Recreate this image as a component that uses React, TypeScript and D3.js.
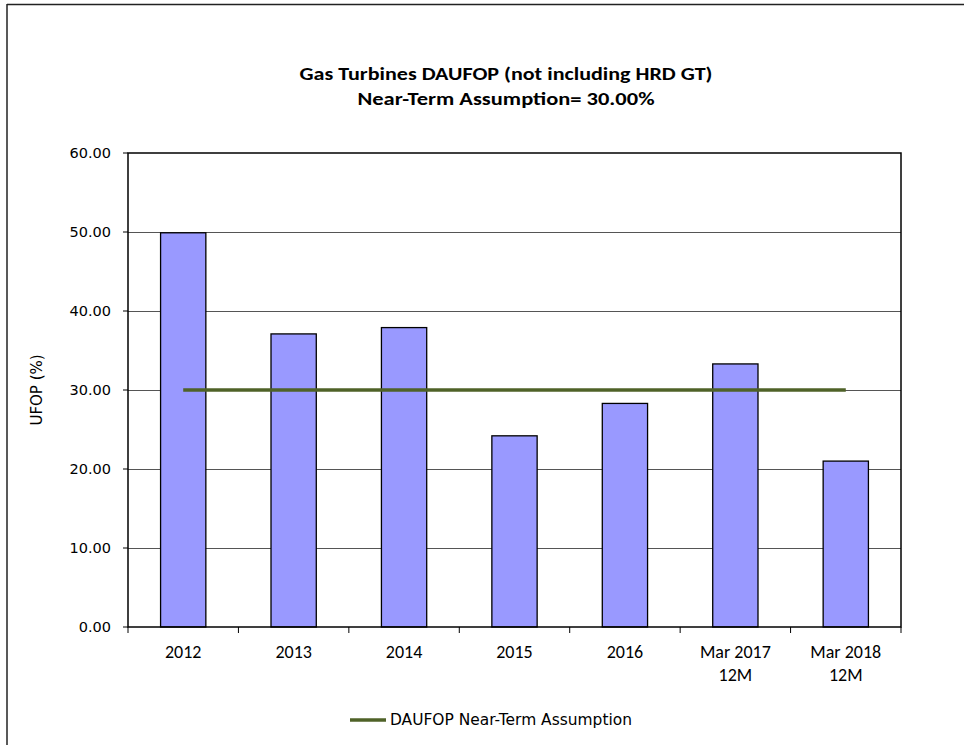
import React from "react";
import * as d3 from "d3";

const categories: string[][] = [["2012"], ["2013"], ["2014"], ["2015"], ["2016"], ["Mar 2017", "12M"], ["Mar 2018", "12M"]];
const ufopValues: number[] = [49.9, 37.1, 37.9, 24.2, 28.3, 33.3, 21.0];
const assumptionValues: number[] = [30, 30, 30, 30, 30, 30, 30];
const yTicks: number[] = [0, 10, 20, 30, 40, 50, 60];
const titleLines: string[] = ["Gas Turbines DAUFOP (not including HRD GT)", "Near-Term Assumption= 30.00%"];
const yLabel = "UFOP (%)";
const legendLabel = "DAUFOP Near-Term Assumption";

const W = 964;
const H = 747;
const plot = { left: 128, right: 901, top: 153, bottom: 627 };
const titleFont = "Carlito, Calibri, 'Open Sans', sans-serif";
const tickFont = "'DejaVu Sans', Verdana, sans-serif";

export default function App() {
  const keys = categories.map((c) => c.join(" "));
  const x = d3.scaleBand<string>().domain(keys).range([plot.left, plot.right]).padding(0);
  const y = d3.scaleLinear().domain([0, 60]).range([plot.bottom, plot.top]);
  const barW = x.bandwidth() * 0.41;
  const cx = (k: string) => (x(k) as number) + x.bandwidth() / 2;

  const line = d3
    .line<number>()
    .x((_, i) => cx(keys[i]))
    .y((d) => y(d));

  const boundaries = d3.range(keys.length + 1).map((i) => plot.left + i * x.step());

  return (
    <svg
      width={W}
      height={H}
      style={{ position: "absolute", left: 0, top: 0, background: "#fff" }}
    >
      <rect x={0} y={0} width={W} height={H} fill="#fff" />
      {/* outer frame */}
      <line x1={7} y1={4.5} x2={W} y2={4.5} stroke="#222" strokeWidth={1.5} />
      <line x1={7} y1={4} x2={7} y2={745} stroke="#222" strokeWidth={1.5} />

      {/* title */}
      <text x={506} y={80} textAnchor="middle" fontFamily={titleFont} fontWeight="bold" fontSize={18} textLength={413} lengthAdjust="spacingAndGlyphs">
        {titleLines[0]}
      </text>
      <text x={506} y={105} textAnchor="middle" fontFamily={titleFont} fontWeight="bold" fontSize={18} textLength={297} lengthAdjust="spacingAndGlyphs">
        {titleLines[1]}
      </text>

      {/* gridlines */}
      {yTicks
        .filter((t) => t > 0 && t < 60)
        .map((t) => (
          <line key={"g" + t} x1={plot.left} x2={plot.right} y1={Math.round(y(t)) + 0.5} y2={Math.round(y(t)) + 0.5} stroke="#555" strokeWidth={1} />
        ))}

      {/* bars */}
      {ufopValues.map((v, i) => (
        <rect
          key={"b" + i}
          x={cx(keys[i]) - barW / 2}
          y={y(v)}
          width={barW}
          height={y(0) - y(v)}
          fill="#9999FF"
          stroke="#000"
          strokeWidth={1.3}
        />
      ))}

      {/* assumption line */}
      <path d={line(assumptionValues) || ""} fill="none" stroke="#4F6228" strokeWidth={3.5} />

      {/* plot border */}
      <rect x={plot.left} y={plot.top} width={plot.right - plot.left} height={plot.bottom - plot.top} fill="none" stroke="#000" strokeWidth={1.5} />

      {/* y ticks */}
      {yTicks.map((t) => (
        <g key={"yt" + t}>
          <line x1={plot.left - 5} x2={plot.left} y1={y(t)} y2={y(t)} stroke="#000" strokeWidth={1} />
          <text x={111} y={y(t)} dy="0.35em" textAnchor="end" fontFamily={tickFont} fontSize={14.5} fill="#000">
            {d3.format(".2f")(t)}
          </text>
        </g>
      ))}

      {/* x ticks */}
      {boundaries.map((b, i) => (
        <line key={"xt" + i} x1={b} x2={b} y1={plot.bottom} y2={plot.bottom + 6} stroke="#000" strokeWidth={1} />
      ))}
      {categories.map((c, i) => (
        <text key={"xl" + i} x={cx(keys[i])} textAnchor="middle" fontFamily={titleFont} fontSize={18} fill="#000">
          {c.map((ln, j) => (
            <tspan key={j} x={cx(keys[i])} y={658 + j * 23}>
              {ln}
            </tspan>
          ))}
        </text>
      ))}

      {/* y axis label */}
      <text transform={`translate(42,${(plot.top + plot.bottom) / 2}) rotate(-90)`} textAnchor="middle" fontFamily={tickFont} fontSize={15} fill="#000">
        {yLabel}
      </text>

      {/* legend */}
      <line x1={350} x2={386} y1={720} y2={720} stroke="#4F6228" strokeWidth={3.5} />
      <text x={390} y={720} dy="0.35em" fontFamily={tickFont} fontSize={15} fill="#000" textLength={242} lengthAdjust="spacingAndGlyphs">
        {legendLabel}
      </text>
    </svg>
  );
}
